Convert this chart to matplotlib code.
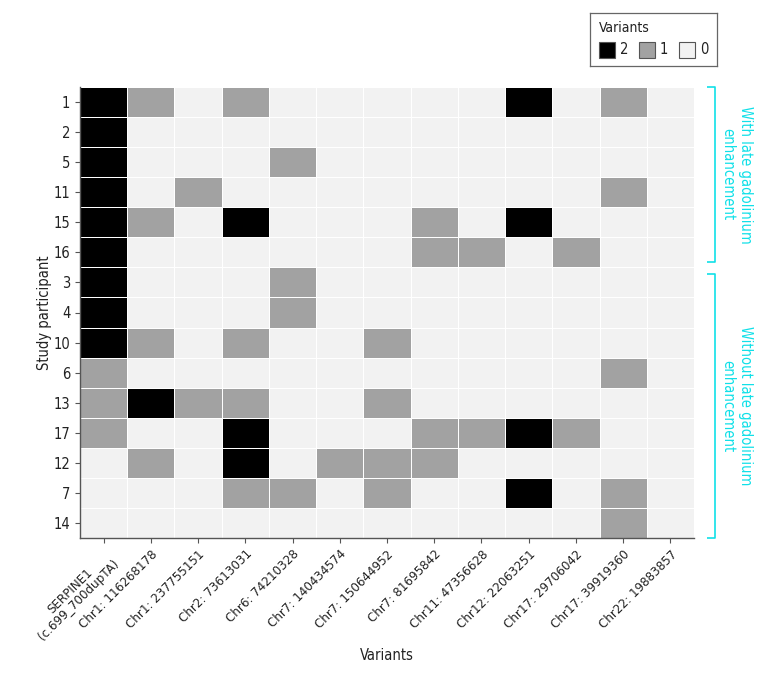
import matplotlib
matplotlib.use("Agg")
import matplotlib.pyplot as plt
import numpy as np
from matplotlib.colors import ListedColormap, BoundaryNorm
from matplotlib.patches import Rectangle

plt.rcParams['font.family'] = ['DejaVu Sans']
plt.rcParams['font.stretch'] = 'condensed'

participants = ["1", "2", "5", "11", "15", "16", "3", "4", "10", "6", "13", "17", "12", "7", "14"]
variants = ["SERPINE1\n(c.699_700dupTA)", "Chr1: 116268178", "Chr1: 237755151", "Chr2: 73613031",
            "Chr6: 74210328", "Chr7: 140434574", "Chr7: 150644952", "Chr7: 81695842",
            "Chr11: 47356628", "Chr12: 22063251", "Chr17: 29706042", "Chr17: 39919360",
            "Chr22: 19883857"]
counts = [
    [2, 1, 0, 1, 0, 0, 0, 0, 0, 2, 0, 1, 0],
    [2, 0, 0, 0, 0, 0, 0, 0, 0, 0, 0, 0, 0],
    [2, 0, 0, 0, 1, 0, 0, 0, 0, 0, 0, 0, 0],
    [2, 0, 1, 0, 0, 0, 0, 0, 0, 0, 0, 1, 0],
    [2, 1, 0, 2, 0, 0, 0, 1, 0, 2, 0, 0, 0],
    [2, 0, 0, 0, 0, 0, 0, 1, 1, 0, 1, 0, 0],
    [2, 0, 0, 0, 1, 0, 0, 0, 0, 0, 0, 0, 0],
    [2, 0, 0, 0, 1, 0, 0, 0, 0, 0, 0, 0, 0],
    [2, 1, 0, 1, 0, 0, 1, 0, 0, 0, 0, 0, 0],
    [1, 0, 0, 0, 0, 0, 0, 0, 0, 0, 0, 1, 0],
    [1, 2, 1, 1, 0, 0, 1, 0, 0, 0, 0, 0, 0],
    [1, 0, 0, 2, 0, 0, 0, 1, 1, 2, 1, 0, 0],
    [0, 1, 0, 2, 0, 1, 1, 1, 0, 0, 0, 0, 0],
    [0, 0, 0, 1, 1, 0, 1, 0, 0, 2, 0, 1, 0],
    [0, 0, 0, 0, 0, 0, 0, 0, 0, 0, 0, 1, 0],
]
groups = ["With late gadolinium\nenhancement", "Without late gadolinium\nenhancement"]
group_sizes = [6, 9]
legend_levels = ["2", "1", "0"]

level_colors = {0: "#f2f2f2", 1: "#a2a2a2", 2: "#000000"}
cyan = "#10e0e8"

W, H = 780, 674
fig = plt.figure(figsize=(7.8, 6.74), dpi=100)
ax = fig.add_axes([80/W, 1-538/H, 614/W, 451/H])

data = np.array(counts)
cmap = ListedColormap([level_colors[0], level_colors[1], level_colors[2]])
norm = BoundaryNorm([-0.5, 0.5, 1.5, 2.5], 3)
nr, nc = data.shape
ax.pcolormesh(np.arange(nc+1)-0.5, np.arange(nr+1)-0.5, data, cmap=cmap, norm=norm,
              edgecolors="#ffffff", linewidth=0.6)
ax.set_xlim(-0.5, nc-0.5)
ax.set_ylim(nr-0.5, -0.5)

ax.set_xticks(range(nc))
ax.set_xticklabels(variants, rotation=45, ha="right", rotation_mode="anchor", fontsize=9.5,
                   linespacing=1.0, multialignment="center")
ax.set_yticks(range(nr))
ax.set_yticklabels(participants, fontsize=10.5)
ax.tick_params(axis="both", direction="out", length=3.5, color="#555555", labelcolor="#222222")
for s in ["top", "right"]:
    ax.spines[s].set_visible(False)
for s in ["left", "bottom"]:
    ax.spines[s].set_color("#555555")
    ax.spines[s].set_linewidth(1.0)

fig.text(387/W, 1-656/H, "Variants", fontsize=10.5, color="#222222", ha="center", va="center")
fig.text(45/W, 1-313/H, "Study participant", fontsize=10.5, color="#222222", ha="center",
         va="center", rotation=90)

# right-side brackets (positions in pixels)
bracket_px = [(87, 262), (274, 538)]
xline = 715
for g, (p0, p1) in zip(groups, bracket_px):
    xs = [707 / W, xline / W, xline / W, 707 / W]
    ys = [1 - p0 / H, 1 - p0 / H, 1 - p1 / H, 1 - p1 / H]
    fig.add_artist(plt.Line2D(xs, ys, color=cyan, lw=1.2, solid_capstyle="butt"))
    fig.text(736.5 / W, 1 - (p0 + p1) / 2 / H, g, rotation=-90, ha="center", va="center",
             color=cyan, fontsize=10.5, linespacing=1.2)

# legend
lax = fig.add_axes([590/W, 1-66/H, 127/W, 53/H])
lax.set_xlim(0, 127)
lax.set_ylim(53, 0)
lax.set_xticks([])
lax.set_yticks([])
for s in lax.spines.values():
    s.set_color("#666666")
    s.set_linewidth(0.9)
lax.text(9, 15, "Variants", fontsize=10, va="center", ha="left", color="#222222")
for i, lv in enumerate(legend_levels):
    x0 = 9 + i * 40
    lax.add_patch(Rectangle((x0, 29), 16, 16, facecolor=level_colors[int(lv)],
                            edgecolor="#555555", lw=0.8))
    lax.text(x0 + 21, 37, lv, fontsize=10.5, va="center", ha="left", color="#222222")

fig.savefig("out.png", dpi=100)
